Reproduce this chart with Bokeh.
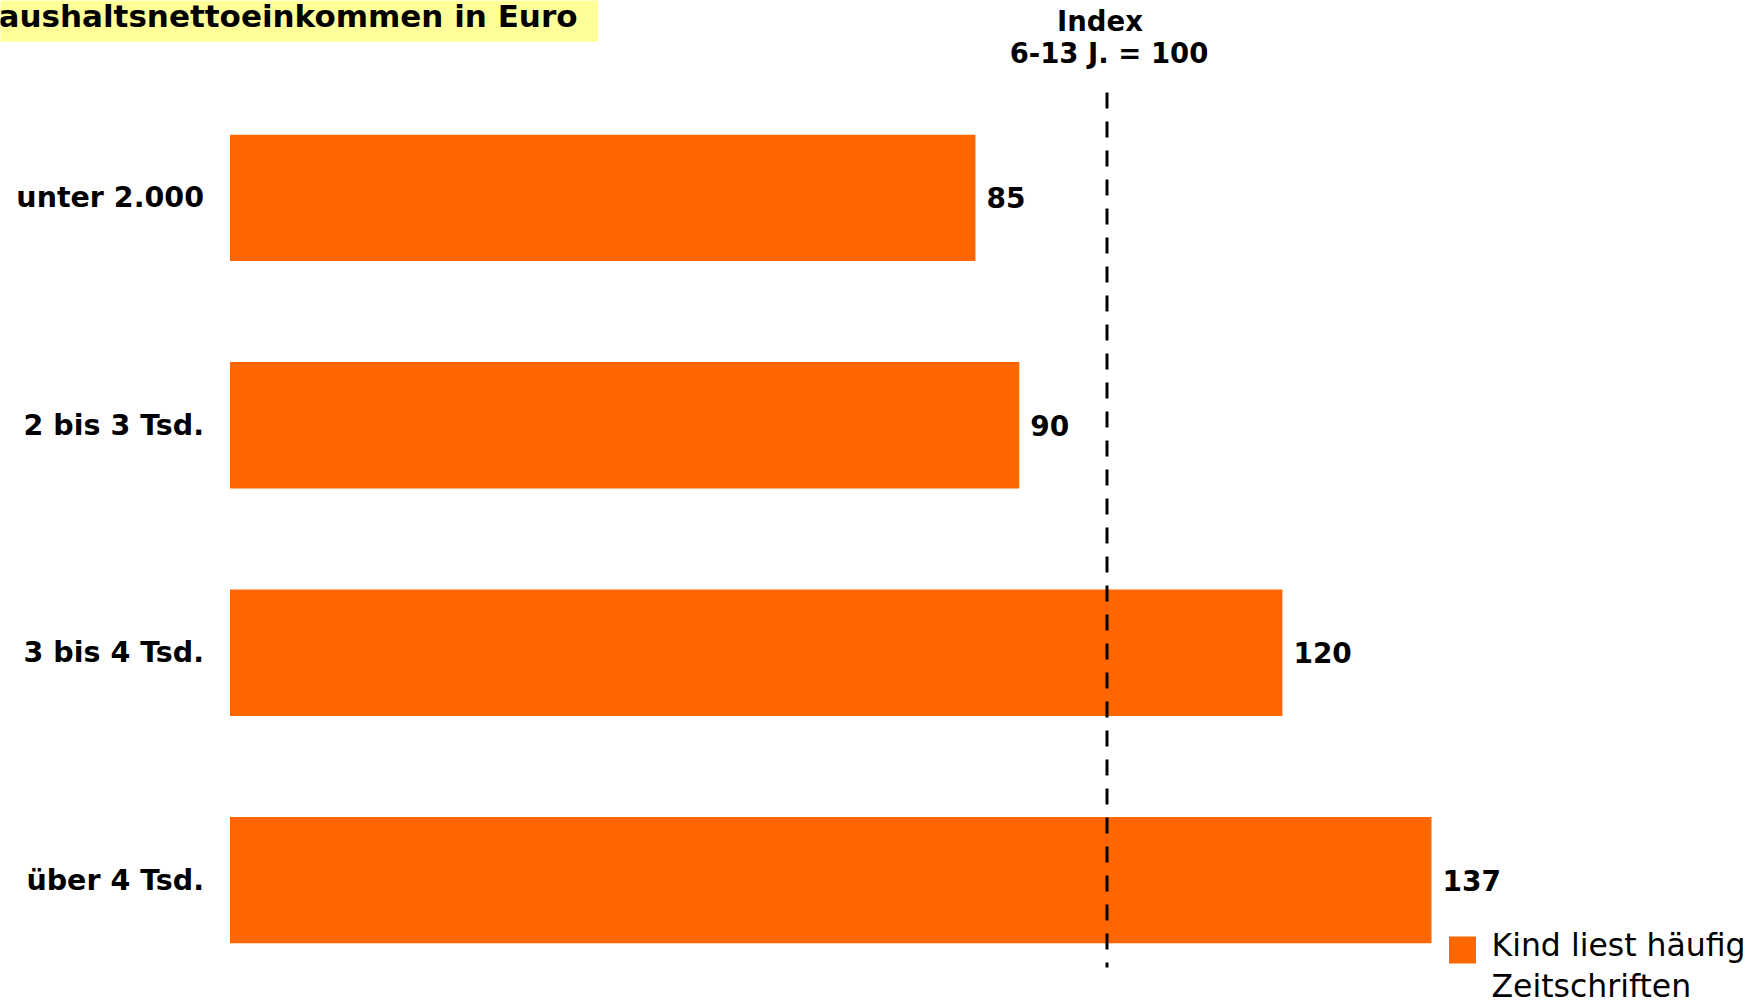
import numpy as np
from bokeh.plotting import figure
from bokeh.models import Range1d
from bokeh.core.properties import value
from bokeh.embed import file_html
from bokeh.resources import INLINE

# ---------------- data ----------------
categories = ["unter 2.000", "2 bis 3 Tsd.", "3 bis 4 Tsd.", "über 4 Tsd."]
index_values = [85, 90, 120, 137]
reference_index = 100
title_text = "Haushaltsnettoeinkommen in Euro"
index_label_lines = ["Index", "6-13 J. = 100"]
legend_lines = ["Kind liest häufig", "Zeitschriften"]

# ---------------- layout ----------------
W, H = 1764, 1003
X0_PX = 229.5            # canvas px of value 0
PX_PER_UNIT = 8.77
Y0_PX = 197.4            # canvas px of first row centre
ROW_PX = 227.4
BAR_FRAC = 0.556
ORANGE = "#FF6600"
FONT = value("DejaVu Sans")

x_range = Range1d(-X0_PX / PX_PER_UNIT, (W - X0_PX) / PX_PER_UNIT)
y_range = Range1d((H - Y0_PX) / ROW_PX, -Y0_PX / ROW_PX)


def px_x(px):
    return (px - X0_PX) / PX_PER_UNIT


def px_y(py):
    return (py - Y0_PX) / ROW_PX


p = figure(width=W, height=H, x_range=x_range, y_range=y_range,
           output_backend="svg", toolbar_location=None, min_border=0)
p.axis.visible = False
p.grid.visible = False
p.outline_line_color = None
p.background_fill_color = "white"
p.border_fill_color = "white"

rows = np.arange(len(categories))

# title box (the title is cut at the left edge, as in the original)
p.quad(left=px_x(-30), right=px_x(597.5), top=px_y(-10), bottom=px_y(41.3),
       fill_color="#FFFF99", line_color=None)
p.text(x=[px_x(577)], y=[px_y(15)], text=[title_text], text_align="right",
       text_baseline="middle", text_font=FONT, text_font_style="bold",
       text_font_size="31px", text_color="black")

# bars
p.hbar(y=rows, left=0, right=index_values, height=BAR_FRAC,
       fill_color=ORANGE, line_color=None)

# reference line
p.segment(x0=[reference_index], x1=[reference_index], y0=[px_y(92)], y1=[px_y(967)],
          line_color="black", line_width=3, line_dash="16 13")

p.text(x=[reference_index] * 2, y=[px_y(20.5), px_y(52)], text=index_label_lines,
       x_offset=[-7, 2], text_align="center", text_baseline="middle",
       text_font=FONT, text_font_style="bold", text_font_size="27.5px", text_color="black")

# value labels
p.text(x=index_values, y=rows, text=[str(v) for v in index_values], x_offset=11,
       text_align="left", text_baseline="middle", text_font=FONT,
       text_font_style="bold", text_font_size="28px", text_color="black")

# category labels
p.text(x=[0] * len(categories), y=rows, text=categories, x_offset=-26,
       text_align="right", text_baseline="middle", text_font=FONT,
       text_font_style="bold", text_font_size="28.5px", text_color="black")

# legend
p.scatter(x=[px_x(1462)], y=[px_y(949.5)], marker="square", size=27,
          fill_color=ORANGE, line_color=None)
p.text(x=[px_x(1491)] * 2, y=[px_y(944), px_y(985)], text=legend_lines,
       text_align="left", text_baseline="middle", text_font=FONT,
       text_font_size="31.5px", text_color="black")

open("out.html", "w").write(file_html(p, INLINE))
